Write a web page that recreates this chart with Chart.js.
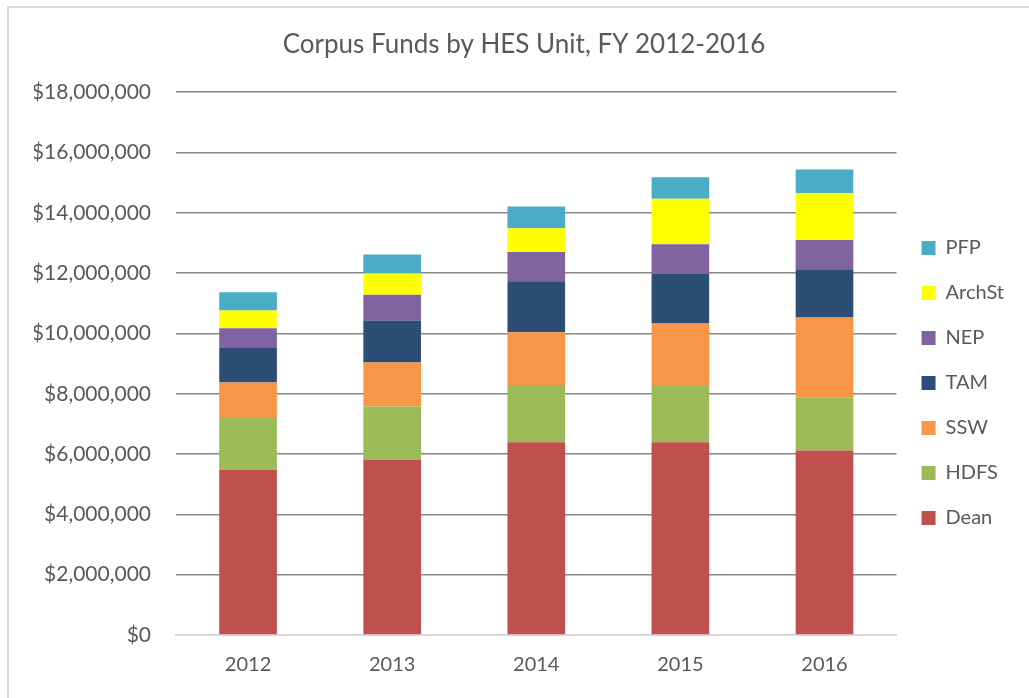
<!DOCTYPE html>
<html>
<head>
<meta charset="utf-8">
<script src="https://cdn.jsdelivr.net/npm/chart.js@4/dist/chart.umd.min.js"></script>
<style>
  html, body { margin: 0; padding: 0; background: #fff; overflow: hidden; }
  #frame { position: absolute; left: 7px; top: 6px; width: 1100px; height: 800px;
           border-top: 2px solid #d9d9d9; border-left: 2px solid #d9d9d9; }
  #chart { position: absolute; left: 0; top: 0; }
</style>
</head>
<body>
<div id="frame"></div>
<canvas id="chart" width="1029" height="698"></canvas>
<script>
const years = ["2012", "2013", "2014", "2015", "2016"];
const dean = [5480000, 5810000, 6390000, 6390000, 6120000];
const hdfs = [1720000, 1770000, 1900000, 1870000, 1760000];
const ssw = [1170000, 1460000, 1750000, 2070000, 2650000];
const tam = [1170000, 1390000, 1690000, 1650000, 1600000];
const nep = [630000, 850000, 970000, 980000, 970000];
const archSt = [590000, 710000, 790000, 1510000, 1560000];
const pfp = [610000, 630000, 720000, 710000, 780000];

const textColor = "#595959";
const fontFamily = "Lato, 'Open Sans', sans-serif";

const series = [
  { label: "Dean", data: dean, color: "#C0504D" },
  { label: "HDFS", data: hdfs, color: "#9BBB59" },
  { label: "SSW", data: ssw, color: "#F79646" },
  { label: "TAM", data: tam, color: "#2C4D75" },
  { label: "NEP", data: nep, color: "#8064A2" },
  { label: "ArchSt", data: archSt, color: "#FFFF00" },
  { label: "PFP", data: pfp, color: "#4BACC6" },
];

const data = {
  labels: years,
  datasets: series.map((s) => ({
    label: s.label,
    data: s.data,
    backgroundColor: s.color,
    borderWidth: 0,
    barPercentage: 0.4,
    categoryPercentage: 1.0,
  })),
};

const config = {
  type: "bar",
  data: data,
  options: {
    responsive: false,
    animation: false,
    layout: { padding: { left: 34, right: 15, top: 0, bottom: 3 } },
    plugins: {
      tooltip: { enabled: false },
      title: {
        display: true,
        text: "Corpus Funds by HES Unit, FY 2012-2016",
        color: textColor,
        font: { family: fontFamily, size: 26, weight: "normal" },
        padding: { top: 29, bottom: 32 },
      },
      legend: {
        position: "right",
        reverse: true,
        // empty title only used as a spacer so the items sit lower
        title: { display: true, text: " ", font: { size: 10 }, padding: { top: 59, bottom: 0 } },
        labels: {
          color: textColor,
          font: { family: fontFamily, size: 20 },
          boxWidth: 14,
          boxHeight: 14,
          padding: 25,
        },
      },
    },
    scales: {
      x: {
        stacked: true,
        grid: { display: false, drawTicks: false },
        border: { display: true, color: "#d9d9d9", width: 2 },
        ticks: { color: textColor, font: { family: fontFamily, size: 20 }, padding: 18 },
      },
      y: {
        stacked: true,
        min: 0,
        max: 18000000,
        afterFit: (scale) => { scale.width = 176 - 34; },
        grid: {
          drawTicks: false,
          color: (ctx) => (ctx.tick && ctx.tick.value === 0 ? "#d9d9d9" : "#888888"),
          lineWidth: 1.5,
        },
        border: { display: false },
        ticks: {
          stepSize: 2000000,
          color: textColor,
          font: { family: fontFamily, size: 21 },
          padding: 25,
          callback: (v) => "$" + Number(v).toLocaleString("en-US"),
        },
      },
    },
  },
};

const myChart = new Chart(document.getElementById("chart"), config);
</script>
</body>
</html>
